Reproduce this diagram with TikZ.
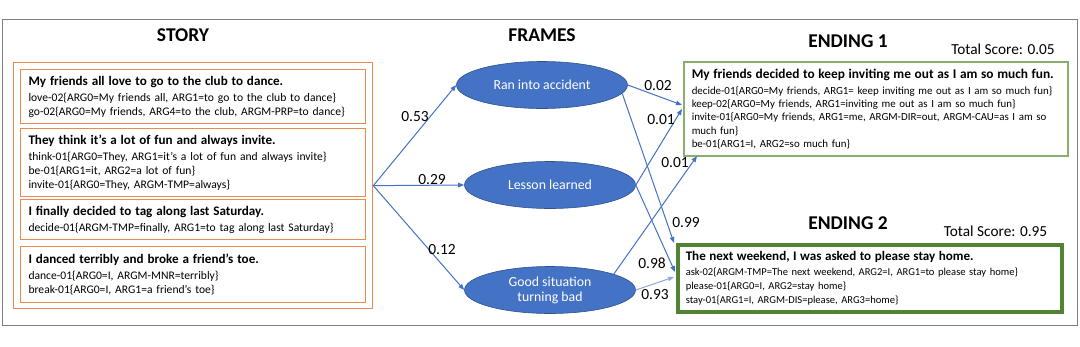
\documentclass[tikz,border=0pt]{standalone}
\usepackage{fontspec}
\setmainfont{Carlito}
\usetikzlibrary{arrows.meta,shapes.geometric}
\definecolor{obl}{HTML}{4472C4}
\definecolor{obd}{HTML}{2F528F}
\definecolor{olt}{HTML}{8EA9DB}
\definecolor{oor}{HTML}{EE8A4E}
\definecolor{gl}{HTML}{8AAE6B}
\definecolor{gd}{HTML}{548235}
\definecolor{frm}{HTML}{7F7F7F}
\newcommand\myfs[2]{\fontsize{#1}{#2}\selectfont}
\tikzset{
  ttl/.style={font=\myfs{19.5}{22}\bfseries, inner sep=0pt},
  score/.style={font=\myfs{15.3}{18}, inner sep=0pt},
  lbl/.style={font=\myfs{15.5}{18}, inner sep=0pt},
  sbox/.style={draw=oor, line width=1pt, anchor=north west, align=left,
    text width=329pt, inner xsep=8pt, inner ysep=0pt, font=\myfs{11.6}{14}},
  ebox/.style={anchor=north west, align=left, inner xsep=8pt, inner ysep=0pt},
  frameell/.style={ellipse, fill=obl, draw=obd, line width=0.6pt, text=white,
    minimum width=171pt, minimum height=47pt, inner sep=0pt, align=center,
    font=\myfs{13.8}{15}},
  arr/.style={draw=obl, line width=1pt, -{Triangle[length=6pt,width=4.5pt]}},
}
\begin{document}
\begin{tikzpicture}[x=1pt,y=-1pt]
\useasboundingbox (0,0) rectangle (1080,346);
\fill[white] (0,0) rectangle (1080,346);
\node[draw=frm, line width=1.3pt, anchor=north west, minimum width=1075pt, minimum height=306pt, inner sep=0pt] (frame) at (2,19) {};
% titles
\node[ttl] (tstory) at (183,35) {STORY};
\node[ttl] (tframes) at (542,35) {FRAMES};
\node[ttl] (tend1) at (848,41) {ENDING 1};
\node[ttl] (tend2) at (848,223) {ENDING 2};
\node[score] (sc1) at (1003,49) {Total Score: 0.05};
\node[score] (sc2) at (995.5,231) {Total Score: 0.95};
% story
\node[draw=oor, line width=1.3pt, anchor=north west, minimum width=359pt, minimum height=246pt, inner sep=0pt] (story) at (13,62) {};
\node[sbox, minimum height=54pt] (s1) at (20,69) {{\myfs{13.1}{14}\bfseries My friends all love to go to the club to dance.}\\[2pt]
love-02\{ARG0=My friends all, ARG1=to go to the club to dance\}\\
go-02\{ARG0=My friends, ARG4=to the club, ARGM-PRP=to dance\}};
\node[sbox, minimum height=68pt] (s2) at (20,128) {{\myfs{13.1}{14}\bfseries They think it's a lot of fun and always invite.}\\[2pt]
think-01\{ARG0=They, ARG1=it's a lot of fun and always invite\}\\
be-01\{ARG1=it, ARG2=a lot of fun\}\\
invite-01\{ARG0=They, ARGM-TMP=always\}};
\node[sbox, minimum height=40pt] (s3) at (20,199) {{\myfs{13.1}{14}\bfseries I finally decided to tag along last Saturday.}\\[2pt]
decide-01\{ARGM-TMP=finally, ARG1=to tag along last Saturday\}};
\node[sbox, minimum height=56pt] (s4) at (20,246) {{\myfs{13.1}{14}\bfseries I danced terribly and broke a friend's toe.}\\[2pt]
dance-01\{ARG0=I, ARGM-MNR=terribly\}\\
break-01\{ARG0=I, ARG1=a friend's toe\}};
% frames
\node[frameell] (e1) at (542,85) {Ran into accident};
\node[frameell] (e2) at (550,185) {Lesson learned};
\node[frameell] (e3) at (550,290) {Good situation\\turning bad};
% endings
\node[ebox, draw=gl, line width=1.5pt, text width=368pt, minimum height=94pt, font=\myfs{10.9}{13.2}] (end1) at (683,61) {{\myfs{13.35}{14}\bfseries My friends decided to keep inviting me out as I am so much fun.}\\[3pt]
decide-01\{ARG0=My friends, ARG1= keep inviting me out as I am so much fun\}\\
keep-02\{ARG0=My friends, ARG1=inviting me out as I am so much fun\}\\
invite-01\{ARG0=My friends, ARG1=me, ARGM-DIR=out, ARGM-CAU=as I am so\\
much fun\}\\
be-01\{ARG1=I, ARG2=so much fun\}};
\node[ebox, draw=gd, line width=3.5pt, text width=368pt, minimum height=67pt, font=\myfs{10.55}{13.8}] (end2) at (676,243) {{\myfs{13.1}{14}\bfseries The next weekend, I was asked to please stay home.}\\[1pt]
ask-02\{ARGM-TMP=The next weekend, ARG2=I, ARG1=to please stay home\}\\
please-01\{ARG0=I, ARG2=stay home\}\\
stay-01\{ARG1=I, ARGM-DIS=please, ARG3=home\}};
% connector end points
\coordinate (t02) at (682,105);
\coordinate (t01a) at (682,109);
\coordinate (t01b) at (697,156);
\coordinate (t99) at (674,243);
\coordinate (t98) at (675,272);
\coordinate (t93) at (674,277);
% arrows story -> frames
\draw[arr] (story.east) -- (e1.west);
\draw[arr] (story.east) -- (e2.west);
\draw[arr] (story.east) -- (e3.west);
% frames -> endings
\draw[arr] (e1.east) -- (t02);
\draw[arr] (e1.-6) -- (t99);
\draw[arr] (e2.east) -- (t01a);
\draw[arr] (e2.east) -- (t98);
\draw[arr] (e3.14) -- (t01b);
\draw[arr, draw=olt] (e3.east) -- (t93);
% labels
\node[lbl] (l53) at (415,117) {0.53};
\node[lbl] (l29) at (432,180) {0.29};
\node[lbl] (l12) at (442,250) {0.12};
\node[lbl] (l02) at (658,86) {0.02};
\node[lbl] (l01a) at (661,120) {0.01};
\node[lbl] (l01b) at (675,163) {0.01};
\node[lbl] (l99) at (686,223) {0.99};
\node[lbl] (l98) at (652,263) {0.98};
\node[lbl] (l93) at (655,295) {0.93};
\end{tikzpicture}
\end{document}
